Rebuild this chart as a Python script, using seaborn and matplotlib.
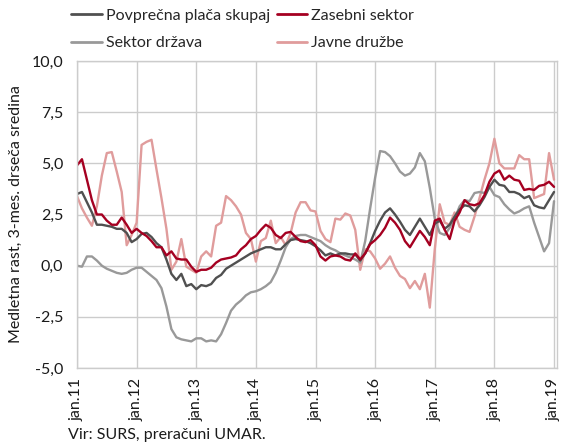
import pandas as pd
import seaborn as sns
import matplotlib.pyplot as plt

# mesečni podatki jan.11 - jan.19
oznake = ['jan.11', 'jan.12', 'jan.13', 'jan.14', 'jan.15', 'jan.16', 'jan.17', 'jan.18', 'jan.19']

povprecna = [3.5, 3.6, 3.1, 2.6, 2.0, 2.0, 1.95, 1.9, 1.8, 1.8, 1.6, 1.15,
             1.3, 1.55, 1.6, 1.4, 1.1, 0.9, 0.3, -0.4, -0.7, -0.4, -1.0, -0.9,
             -1.15, -0.95, -1.0, -0.9, -0.6, -0.45, -0.15, 0.0, 0.15, 0.3, 0.45, 0.6,
             0.7, 0.8, 0.9, 0.9, 0.8, 0.8, 1.05, 1.25, 1.3, 1.25, 1.2, 1.1,
             0.95, 0.75, 0.5, 0.6, 0.5, 0.6, 0.6, 0.55, 0.55, 0.25, 0.6, 1.1,
             1.7, 2.2, 2.6, 2.8, 2.5, 2.15, 1.75, 1.5, 1.9, 2.3, 1.9, 1.5,
             2.05, 2.2, 1.8, 2.0, 2.4, 2.75, 2.95, 2.9, 2.65, 2.95, 3.35, 3.85,
             4.2, 3.95, 3.9, 3.6, 3.6, 3.5, 3.3, 3.4, 2.95, 2.85, 2.8, 3.2,
             3.6]

zasebni = [4.9, 5.2, 4.2, 3.2, 2.5, 2.5, 2.2, 2.0, 2.0, 2.35, 2.0, 1.6,
           1.8, 1.6, 1.45, 1.2, 0.9, 0.9, 0.5, 0.7, 0.35, 0.3, 0.3, -0.05,
           -0.3, -0.2, -0.2, -0.1, 0.15, 0.3, 0.35, 0.4, 0.5, 0.8, 1.0, 1.3,
           1.45, 1.75, 2.0, 1.85, 1.5, 1.35, 1.6, 1.65, 1.4, 1.2, 1.15, 1.25,
           1.0, 0.45, 0.25, 0.45, 0.5, 0.45, 0.3, 0.25, 0.6, 0.3, 0.6, 1.05,
           1.25, 1.5, 1.85, 2.35, 2.1, 1.75, 1.2, 0.9, 1.3, 1.7, 1.4, 1.0,
           2.2, 2.3, 1.75, 1.3, 2.2, 2.6, 3.2, 3.0, 2.95, 3.05, 3.45, 4.1,
           4.5, 4.65, 4.2, 4.4, 4.2, 4.15, 3.7, 3.75, 3.7, 3.9, 3.95, 4.1,
           3.85]

drzava = [0.0, -0.05, 0.45, 0.45, 0.25, 0.0, -0.15, -0.25, -0.35, -0.4, -0.35, -0.2,
          -0.1, -0.1, -0.3, -0.5, -0.7, -1.1, -2.0, -3.1, -3.5, -3.6, -3.65, -3.7,
          -3.55, -3.55, -3.7, -3.65, -3.7, -3.35, -2.8, -2.2, -1.9, -1.7, -1.45, -1.3,
          -1.25, -1.15, -1.0, -0.8, -0.35, 0.25, 0.9, 1.3, 1.45, 1.5, 1.5, 1.4,
          1.3, 1.2, 1.0, 0.85, 0.75, 0.6, 0.5, 0.4, 0.3, 0.15, 1.2, 2.8,
          4.3, 5.6, 5.55, 5.35, 5.0, 4.6, 4.4, 4.5, 4.8, 5.5, 5.1, 3.8,
          2.3, 1.6, 1.5, 1.85, 2.3, 2.9, 3.2, 3.15, 3.55, 3.6, 3.55, 3.85,
          3.45, 3.35, 3.0, 2.75, 2.55, 2.65, 2.8, 2.9, 2.1, 1.4, 0.7, 1.1,
          3.15]

javne = [3.4, 2.8, 2.35, 1.95, 2.9, 4.4, 5.5, 5.55, 4.6, 3.6, 1.0, 1.5,
         2.1, 5.9, 6.05, 6.15, 4.7, 3.3, 1.8, -0.2, 0.2, 1.3, -0.05, -0.2,
         -0.35, 0.45, 0.7, 0.45, 1.95, 2.1, 3.4, 3.2, 2.9, 2.5, 1.6, 1.3,
         0.2, 1.2, 1.35, 2.2, 1.1, 1.4, 1.0, 1.6, 2.6, 3.1, 3.1, 2.7,
         2.65, 1.7, 1.3, 1.15, 2.3, 2.25, 2.55, 2.45, 1.75, -0.2, 0.8, 0.7,
         0.35, -0.15, 0.1, 0.45, -0.1, -0.5, -0.65, -1.1, -0.75, -1.15, -0.4, -2.05,
         0.8, 3.0, 2.1, 2.0, 2.6, 1.9, 1.75, 1.65, 2.4, 3.3, 4.2, 5.0,
         6.2, 5.0, 4.75, 4.75, 4.75, 5.4, 5.2, 5.2, 3.3, 3.4, 3.5, 5.5,
         4.2]

mesec = list(range(len(povprecna)))

df = pd.DataFrame({
    'mesec': mesec * 4,
    'vrednost': javne + drzava + povprecna + zasebni,
    'serija': (['Javne družbe'] * len(mesec) + ['Sektor država'] * len(mesec)
               + ['Povprečna plača skupaj'] * len(mesec) + ['Zasebni sektor'] * len(mesec)),
})

barve = {'Povprečna plača skupaj': '#505050', 'Zasebni sektor': '#a50021',
         'Sektor država': '#999999', 'Javne družbe': '#e09c9c'}

sns.set_style('white')
plt.rcParams['font.family'] = ['Lato', 'DejaVu Sans']
fs = 11.5

fig = plt.figure(figsize=(5.64, 4.43), dpi=100)
ax = fig.add_axes([0.1365, 0.1693, 0.8511, 0.693])

sns.lineplot(data=df, x='mesec', y='vrednost', hue='serija', palette=barve,
             linewidth=1.7, ax=ax, legend=False)

ax.set_xlim(0, 96.6)
ax.set_ylim(-5, 10)
ax.set_xticks(range(0, 97, 12))
ax.set_xticklabels(oznake, rotation=90, fontsize=fs, color='#1a1a1a')
ax.set_yticks([-5, -2.5, 0, 2.5, 5, 7.5, 10])
ax.set_yticklabels(['-5,0', '-2,5', '0,0', '2,5', '5,0', '7,5', '10,0'], fontsize=fs, color='#1a1a1a')
ax.tick_params(axis='x', length=0, pad=7)
ax.tick_params(axis='y', length=0, pad=10)
ax.grid(True, color='#cccccc', linewidth=1.0)
for s in ax.spines.values():
    s.set_color('#cccccc')
    s.set_linewidth(1.0)
ax.set_xlabel('')
ax.set_ylabel('Medletna rast, 3-mes. drseča sredina', fontsize=fs, color='#1a1a1a', labelpad=6)

vrstni_red = ['Povprečna plača skupaj', 'Sektor država', 'Zasebni sektor', 'Javne družbe']
rocaji = [plt.Line2D([], [], color=barve[k], linewidth=2.0) for k in vrstni_red]
fig.legend(rocaji, vrstni_red, loc='upper left', bbox_to_anchor=(0.104, 1.01), ncol=2,
           frameon=False, fontsize=fs, handlelength=1.9, handletextpad=0.25,
           columnspacing=0.45, labelspacing=0.85, borderpad=0.3)

fig.text(0.12, 0.01, 'Vir: SURS, preračuni UMAR.', fontsize=fs, color='#1a1a1a')

fig.savefig('out.png', dpi=100)
